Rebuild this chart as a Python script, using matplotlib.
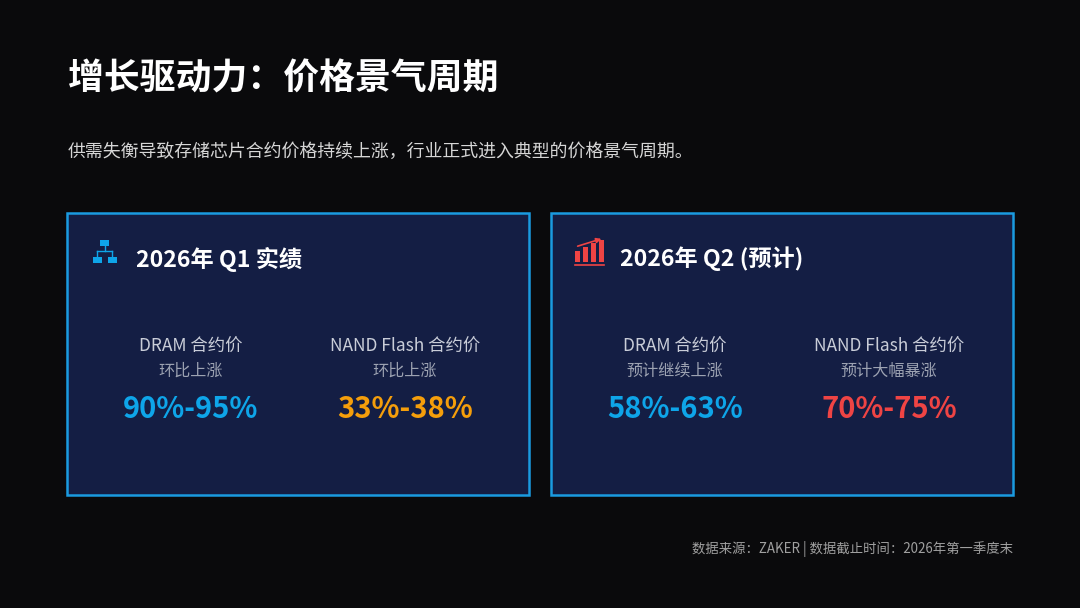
import matplotlib
matplotlib.use("Agg")
import matplotlib.pyplot as plt
from matplotlib.patches import Rectangle, FancyArrowPatch

plt.rcParams['font.family'] = ['Noto Sans CJK SC', 'DejaVu Sans']

# content
title = "增长驱动力：价格景气周期"
subtitle = "供需失衡导致存储芯片合约价格持续上涨，行业正式进入典型的价格景气周期。"
panel_titles = ["2026年 Q1 实绩", "2026年 Q2 (预计)"]
item_names = [["DRAM 合约价", "NAND Flash 合约价"],
              ["DRAM 合约价", "NAND Flash 合约价"]]
item_notes = [["环比上涨", "环比上涨"],
              ["预计继续上涨", "预计大幅暴涨"]]
item_values = [["90%-95%", "33%-38%"],
               ["58%-63%", "70%-75%"]]
source = "数据来源：ZAKER | 数据截止时间：2026年第一季度末"

BLUE = "#0ea5e9"
AMBER = "#f59e0b"
RED = "#ef4444"
value_colors = [[BLUE, AMBER], [BLUE, RED]]
icon_colors = [BLUE, RED]

W, H = 1080, 608
fig = plt.figure(figsize=(W / 100, H / 100), dpi=100)
fig.patch.set_facecolor("#0a0a0c")
ax = fig.add_axes([0, 0, 1, 1])
ax.set_xlim(0, W)
ax.set_ylim(H, 0)
ax.axis("off")
ax.set_facecolor("#0a0a0c")

ax.text(68, 79, title, fontsize=25.8, fontweight="bold", color="white", va="center", ha="left")
ax.text(68, 152, subtitle, fontsize=12.9, color="#d6d6d6", va="center", ha="left")

panel_x = [67, 551]
pw, ph, py = 462, 282, 213
col_off = [124, 338]

for p in range(2):
    x0 = panel_x[p]
    ax.add_patch(Rectangle((x0, py), pw, ph, facecolor="#141e44", edgecolor="#1a9be0", linewidth=1.8))
    # header icon
    c = icon_colors[p]
    if p == 0:
        ax.add_patch(Rectangle((x0 + 33, 240), 9, 6, facecolor=c, edgecolor="none"))
        ax.plot([x0 + 37.5, x0 + 37.5], [246, 251], color=c, lw=1)
        ax.plot([x0 + 30, x0 + 45], [251, 251], color=c, lw=1)
        ax.plot([x0 + 30, x0 + 30], [251, 257], color=c, lw=1)
        ax.plot([x0 + 45, x0 + 45], [251, 257], color=c, lw=1)
        ax.add_patch(Rectangle((x0 + 26, 257), 9, 6, facecolor=c, edgecolor="none"))
        ax.add_patch(Rectangle((x0 + 41, 257), 9, 6, facecolor=c, edgecolor="none"))
    else:
        for bx, bt in [(x0 + 24, 251), (x0 + 32, 247), (x0 + 40, 243), (x0 + 48, 240)]:
            ax.add_patch(Rectangle((bx, bt), 5, 262 - bt, facecolor=c, edgecolor="none"))
        ax.plot([x0 + 24, x0 + 53], [264.5, 264.5], color=c, lw=1.2)
        ax.add_patch(FancyArrowPatch((x0 + 24, 247), (x0 + 53, 238), arrowstyle="-|>",
                                     mutation_scale=7, color=c, lw=1.2))
    ax.text(x0 + 69, 259, panel_titles[p], fontsize=16.7, fontweight="bold", color="white",
            va="center", ha="left")
    for k in range(2):
        cx = x0 + col_off[k]
        ax.text(cx, 347, item_names[p][k], fontsize=12.5, color="#c9cdd8", va="center", ha="center")
        ax.text(cx, 371, item_notes[p][k], fontsize=11.6, color="#9da3b2", va="center", ha="center")
        ax.text(cx, 409, item_values[p][k], fontsize=21, fontweight="bold",
                color=value_colors[p][k], va="center", ha="center")

ax.text(1013, 549, source, fontsize=9.6, color="#a0a0a0", va="center", ha="right")

fig.savefig("out.png", dpi=100, facecolor=fig.get_facecolor())
